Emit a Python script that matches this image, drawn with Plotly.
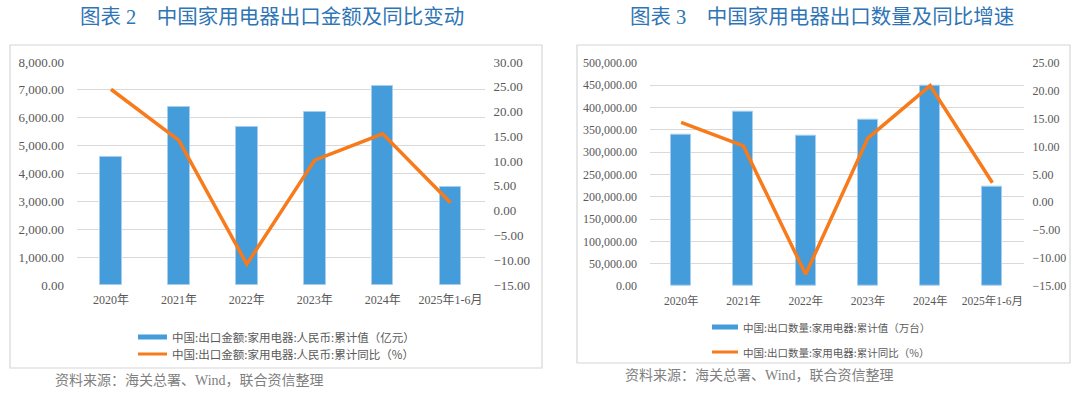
import plotly.graph_objects as go

# ---------------- data ----------------
categories = ["2020年", "2021年", "2022年", "2023年", "2024年", "2025年1-6月"]
export_amount = [4580, 6390, 5675, 6190, 7135, 3525]          # 亿元
export_amount_yoy = [24.5, 14.2, -10.8, 10.2, 15.5, 1.6]      # %
export_qty = [339700, 389500, 337000, 373000, 448000, 222300]  # 万台
export_qty_yoy = [14.3, 10.1, -12.9, 11.5, 20.9, 3.5]         # %

title_left = "图表 2　中国家用电器出口金额及同比变动"
title_right = "图表 3　中国家用电器出口数量及同比增速"
legend_left = ["中国:出口金额:家用电器:人民币:累计值（亿元）",
               "中国:出口金额:家用电器:人民币:累计同比（%）"]
legend_right = ["中国:出口数量:家用电器:累计值（万台）",
                "中国:出口数量:家用电器:累计同比（%）"]
source_text = "资料来源：海关总署、Wind，联合资信整理"

# ---------------- style ----------------
W, H = 1080, 394
BLUE = "#459CDA"
EDGE = "#A8CEEE"
ORANGE = "#F77A1B"
GRID = "#D9D9D9"
TICK = "#595959"
TITLE = "#2F75B5"
SERIF = "Liberation Serif, Noto Sans CJK SC"
SANS = "Noto Sans CJK SC, Noto Sans"


def px(x):
    return x / W


def py(y):
    return 1 - y / H


fig = go.Figure()
fig.add_trace(go.Bar(x=categories, y=export_amount, xaxis="x", yaxis="y",
                     width=0.32, marker=dict(color=BLUE, line=dict(color=EDGE, width=1)),
                     showlegend=False))
fig.add_trace(go.Scatter(x=categories, y=export_amount_yoy, xaxis="x", yaxis="y2",
                         mode="lines", line=dict(color=ORANGE, width=3.5), showlegend=False))
fig.add_trace(go.Bar(x=categories, y=export_qty, xaxis="x2", yaxis="y3",
                     width=0.32, marker=dict(color=BLUE, line=dict(color=EDGE, width=1)),
                     showlegend=False))
fig.add_trace(go.Scatter(x=categories, y=export_qty_yoy, xaxis="x2", yaxis="y4",
                         mode="lines", line=dict(color=ORANGE, width=3.5), showlegend=False))

xcommon = dict(showgrid=False, showline=False, zeroline=False, ticks="",
               fixedrange=True, automargin=False, ticklabelstandoff=6)
ycommon = dict(zeroline=False, ticks="", showline=False, automargin=False)

fig.update_layout(
    width=W, height=H, autosize=False,
    margin=dict(l=0, r=0, t=0, b=0, pad=0),
    paper_bgcolor="white", plot_bgcolor="white",
    bargap=0,
    xaxis=dict(domain=[px(77), px(484.5)], anchor="y",
               tickfont=dict(family=SERIF, size=12, color=TICK), **xcommon),
    yaxis=dict(domain=[py(285), py(62)], anchor="x", range=[0, 8000], dtick=1000,
               tickformat=",.2f", showgrid=True, gridcolor=GRID, gridwidth=1,
               tickfont=dict(family=SERIF, size=13, color=TICK),
               ticklabelstandoff=12, **ycommon),
    yaxis2=dict(overlaying="y", side="right", anchor="x", range=[-15, 30], dtick=5,
                tickformat=".2f", showgrid=False,
                tickfont=dict(family=SERIF, size=13, color=TICK),
                ticklabelstandoff=8, **ycommon),
    xaxis2=dict(domain=[px(650), px(1023.5)], anchor="y3",
                tickfont=dict(family=SERIF, size=11.5, color=TICK), **xcommon),
    yaxis3=dict(domain=[py(286), py(62.7)], anchor="x2", range=[0, 500000], dtick=50000,
                tickformat=",.2f", showgrid=True, gridcolor=GRID, gridwidth=1,
                tickfont=dict(family=SERIF, size=12, color=TICK),
                ticklabelstandoff=12, **ycommon),
    yaxis4=dict(overlaying="y3", side="right", anchor="x2", range=[-15, 25], dtick=5,
                tickformat=".2f", showgrid=False,
                tickfont=dict(family=SERIF, size=12, color=TICK),
                ticklabelstandoff=8, **ycommon),
)

shapes = [
    # frames
    dict(type="rect", xref="paper", yref="paper", x0=px(10), x1=px(542), y0=py(368), y1=py(45),
         line=dict(color="#D6D6D6", width=1.2)),
    dict(type="rect", xref="paper", yref="paper", x0=px(577), x1=px(1070), y0=py(363), y1=py(45),
         line=dict(color="#D6D6D6", width=1.2)),
    # left legend symbols
    dict(type="rect", xref="paper", yref="paper", x0=px(138), x1=px(167), y0=py(339.5), y1=py(334.5),
         fillcolor=BLUE, line=dict(width=0)),
    dict(type="line", xref="paper", yref="paper", x0=px(138), x1=px(167), y0=py(354), y1=py(354),
         line=dict(color=ORANGE, width=3)),
    # right legend symbols
    dict(type="rect", xref="paper", yref="paper", x0=px(712), x1=px(738), y0=py(329.5), y1=py(324.5),
         fillcolor=BLUE, line=dict(width=0)),
    dict(type="line", xref="paper", yref="paper", x0=px(712), x1=px(738), y0=py(352), y1=py(352),
         line=dict(color=ORANGE, width=3)),
]
fig.update_layout(shapes=shapes)

ann = []
ann.append(dict(text=title_left, x=px(271.5), y=py(17), xref="paper", yref="paper",
                xanchor="center", yanchor="middle", showarrow=False,
                font=dict(family=SERIF, size=20.5, color=TITLE)))
ann.append(dict(text=title_right, x=px(822), y=py(17), xref="paper", yref="paper",
                xanchor="center", yanchor="middle", showarrow=False,
                font=dict(family=SERIF, size=20.5, color=TITLE)))
for t, yy in zip(legend_left, [337, 354]):
    ann.append(dict(text=t, x=px(170), y=py(yy), xref="paper", yref="paper",
                    xanchor="left", yanchor="middle", showarrow=False,
                    font=dict(family=SANS, size=11.5, color=TICK)))
for t, yy in zip(legend_right, [327, 352]):
    ann.append(dict(text=t, x=px(741), y=py(yy), xref="paper", yref="paper",
                    xanchor="left", yanchor="middle", showarrow=False,
                    font=dict(family=SANS, size=10.5, color=TICK)))
ann.append(dict(text=source_text, x=px(53), y=py(380), xref="paper", yref="paper",
                xanchor="left", yanchor="middle", showarrow=False,
                font=dict(family=SERIF, size=14, color="#7F7F7F")))
ann.append(dict(text=source_text, x=px(623), y=py(375), xref="paper", yref="paper",
                xanchor="left", yanchor="middle", showarrow=False,
                font=dict(family=SERIF, size=14, color="#7F7F7F")))
fig.update_layout(annotations=ann)

fig.write_html("out.html", config={"displayModeBar": False},
               post_script="document.body.style.margin='0';document.body.style.padding='0';")
